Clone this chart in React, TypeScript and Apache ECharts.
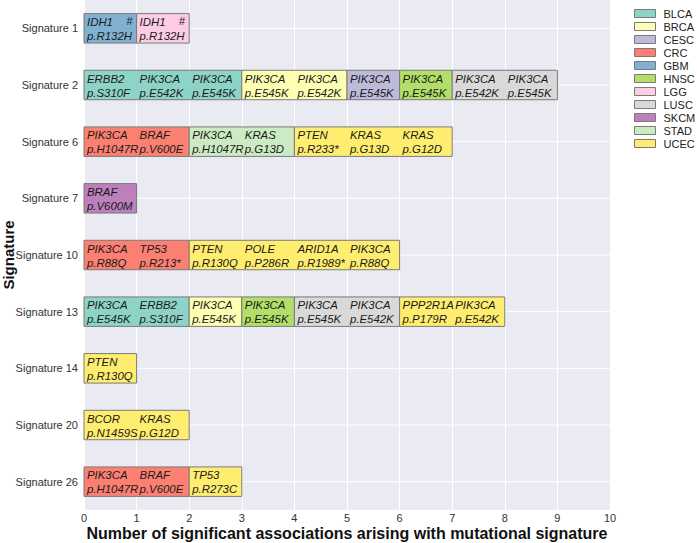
import React, { useEffect, useRef } from "react";
import * as echarts from "echarts";

const signatures = [
  "Signature 1", "Signature 2", "Signature 6", "Signature 7", "Signature 10",
  "Signature 13", "Signature 14", "Signature 20", "Signature 26",
];
const cancers = ["BLCA", "BRCA", "CESC", "CRC", "GBM", "HNSC", "LGG", "LUSC", "SKCM", "STAD", "UCEC"];
const cancerColors = ["#8dd3c7", "#ffffb3", "#bebada", "#fb8072", "#80b1d3", "#b3de69", "#fccde5", "#d9d9d9", "#bc80bd", "#ccebc5", "#ffed6f"];
const xTicks = [0, 1, 2, 3, 4, 5, 6, 7, 8, 9, 10];

// one entry per significant association, per signature (in display order)
const assocCancer: string[][] = [
  ["GBM", "LGG"],
  ["BLCA", "BLCA", "BLCA", "BRCA", "BRCA", "CESC", "HNSC", "LUSC", "LUSC"],
  ["CRC", "CRC", "STAD", "STAD", "UCEC", "UCEC", "UCEC"],
  ["SKCM"],
  ["CRC", "CRC", "UCEC", "UCEC", "UCEC", "UCEC"],
  ["BLCA", "BLCA", "BRCA", "HNSC", "LUSC", "LUSC", "UCEC", "UCEC"],
  ["UCEC"],
  ["UCEC", "UCEC"],
  ["CRC", "CRC", "UCEC"],
];
const assocGene: string[][] = [
  ["IDH1", "IDH1"],
  ["ERBB2", "PIK3CA", "PIK3CA", "PIK3CA", "PIK3CA", "PIK3CA", "PIK3CA", "PIK3CA", "PIK3CA"],
  ["PIK3CA", "BRAF", "PIK3CA", "KRAS", "PTEN", "KRAS", "KRAS"],
  ["BRAF"],
  ["PIK3CA", "TP53", "PTEN", "POLE", "ARID1A", "PIK3CA"],
  ["PIK3CA", "ERBB2", "PIK3CA", "PIK3CA", "PIK3CA", "PIK3CA", "PPP2R1A", "PIK3CA"],
  ["PTEN"],
  ["BCOR", "KRAS"],
  ["PIK3CA", "BRAF", "TP53"],
];
const assocMut: string[][] = [
  ["p.R132H", "p.R132H"],
  ["p.S310F", "p.E542K", "p.E545K", "p.E545K", "p.E542K", "p.E545K", "p.E545K", "p.E542K", "p.E545K"],
  ["p.H1047R", "p.V600E", "p.H1047R", "p.G13D", "p.R233*", "p.G13D", "p.G12D"],
  ["p.V600M"],
  ["p.R88Q", "p.R213*", "p.R130Q", "p.P286R", "p.R1989*", "p.R88Q"],
  ["p.E545K", "p.S310F", "p.E545K", "p.E545K", "p.E545K", "p.E542K", "p.P179R", "p.E542K"],
  ["p.R130Q"],
  ["p.N1459S", "p.G12D"],
  ["p.H1047R", "p.V600E", "p.R273C"],
];
const assocMark: string[][] = [
  ["#", "#"],
  [], [], [], [], [], [], [], [],
];

const FONT = "'Liberation Sans', Arial, Helvetica, sans-serif";

type Block = { start: number; count: number; sig: number; genes: string[]; muts: string[]; marks: string[] };

function buildBlocks(): Block[][] {
  const byCancer: Block[][] = cancers.map(() => []);
  assocCancer.forEach((row, s) => {
    let i = 0;
    while (i < row.length) {
      const c = row[i];
      let j = i;
      while (j < row.length && row[j] === c) j++;
      const ci = cancers.indexOf(c);
      byCancer[ci].push({
        start: i,
        count: j - i,
        sig: s,
        genes: assocGene[s].slice(i, j),
        muts: assocMut[s].slice(i, j),
        marks: (assocMark[s] || []).slice(i, j),
      });
      i = j;
    }
  });
  return byCancer;
}

export default function App() {
  const ref = useRef<HTMLDivElement>(null);
  useEffect(() => {
    if (!ref.current) return;
    const chart = echarts.init(ref.current, undefined, { renderer: "svg" });
    const blocks = buildBlocks();

    const series: any[] = [
      {
        type: "custom",
        name: "_hgrid",
        z: 1,
        silent: true,
        data: signatures.map((s, i) => [0, i]),
        renderItem: (params: any, api: any) => {
          const i = params.dataIndex;
          const a = api.coord([0, i]);
          const b = api.coord([10, i]);
          return {
            type: "line",
            shape: { x1: a[0], y1: a[1], x2: b[0], y2: b[1] },
            style: { stroke: "#ffffff", lineWidth: 1 },
          };
        },
      },
    ];

    cancers.forEach((c, ci) => {
      series.push({
        type: "custom",
        name: c,
        z: 3,
        itemStyle: { color: cancerColors[ci], borderColor: "#7a7a7a", borderWidth: 1 },
        data: blocks[ci].map((b) => [b.start, b.count, b.sig]),
        renderItem: (params: any, api: any) => {
          const b = blocks[ci][params.dataIndex];
          const p0 = api.coord([b.start, b.sig]);
          const size = api.size([1, 1]);
          const unit = size[0];
          const h = size[1] * 0.52;
          const x = p0[0];
          const y = p0[1] - h / 2;
          const children: any[] = [
            {
              type: "rect",
              shape: { x: x, y: y, width: unit * b.count, height: h },
              style: { fill: cancerColors[ci], stroke: "#7a7a7a", lineWidth: 1 },
            },
          ];
          for (let k = 0; k < b.count; k++) {
            children.push({
              type: "text",
              x: x + unit * k + 3,
              y: p0[1] + 0.5,
              style: {
                text: b.genes[k] + "\n" + b.muts[k],
                fontFamily: FONT,
                fontStyle: "italic",
                fontSize: 11.4,
                lineHeight: 14,
                fill: "#1a1a1a",
                verticalAlign: "middle",
                align: "left",
              },
            });
            if (b.marks[k]) {
              children.push({
                type: "text",
                x: x + unit * (k + 1) - 4,
                y: y + 2,
                style: {
                  text: b.marks[k],
                  fontFamily: FONT,
                  fontSize: 11,
                  fill: "#1a1a1a",
                  verticalAlign: "top",
                  align: "right",
                },
              });
            }
          }
          return { type: "group", children };
        },
      });
    });

    chart.setOption({
      animation: false,
      textStyle: { fontFamily: FONT },
      grid: {
        left: 84,
        right: 87,
        top: 0,
        bottom: 33,
        show: true,
        backgroundColor: "#eaeaf2",
        borderWidth: 0,
        containLabel: false,
        outerBoundsMode: "none",
      },
      legend: {
        data: cancers,
        orient: "vertical",
        left: 634,
        top: 8,
        padding: 0,
        itemWidth: 21,
        itemHeight: 8,
        itemGap: 2,
        icon: "rect",
        itemStyle: { borderWidth: 1, borderColor: "#7a7a7a" },
        textStyle: { fontSize: 11, color: "#222", fontFamily: FONT, padding: [0, 0, 0, 3] },
      },
      xAxis: {
        type: "value",
        min: 0,
        max: 10,
        interval: 1,
        axisLine: { show: false },
        axisTick: { show: false },
        axisLabel: {
          fontSize: 11,
          color: "#333",
          margin: 2,
          formatter: (v: number) => (xTicks.includes(v) ? String(v) : ""),
        },
        splitLine: { show: true, lineStyle: { color: "#ffffff", width: 1 } },
        name: "Number of significant associations arising with mutational signature",
        nameLocation: "middle",
        nameGap: 15,
        nameMoveOverlap: false,
        nameTextStyle: { fontSize: 16, fontWeight: "bold", color: "#111", fontFamily: FONT, verticalAlign: "top" },
      },
      yAxis: {
        type: "category",
        data: signatures,
        inverse: true,
        axisLine: { show: false },
        axisTick: { show: false },
        axisLabel: { fontSize: 11, color: "#333", margin: 6 },
        splitLine: { show: false },
        name: "Signature",
        nameLocation: "middle",
        nameGap: 68,
        nameMoveOverlap: false,
        nameTextStyle: { fontSize: 15, fontWeight: "bold", color: "#111", fontFamily: FONT },
      },
      series,
    });
    return () => chart.dispose();
  }, []);
  return <div ref={ref} style={{ width: 697, height: 543, position: "absolute", left: 0, top: 0 }} />;
}
